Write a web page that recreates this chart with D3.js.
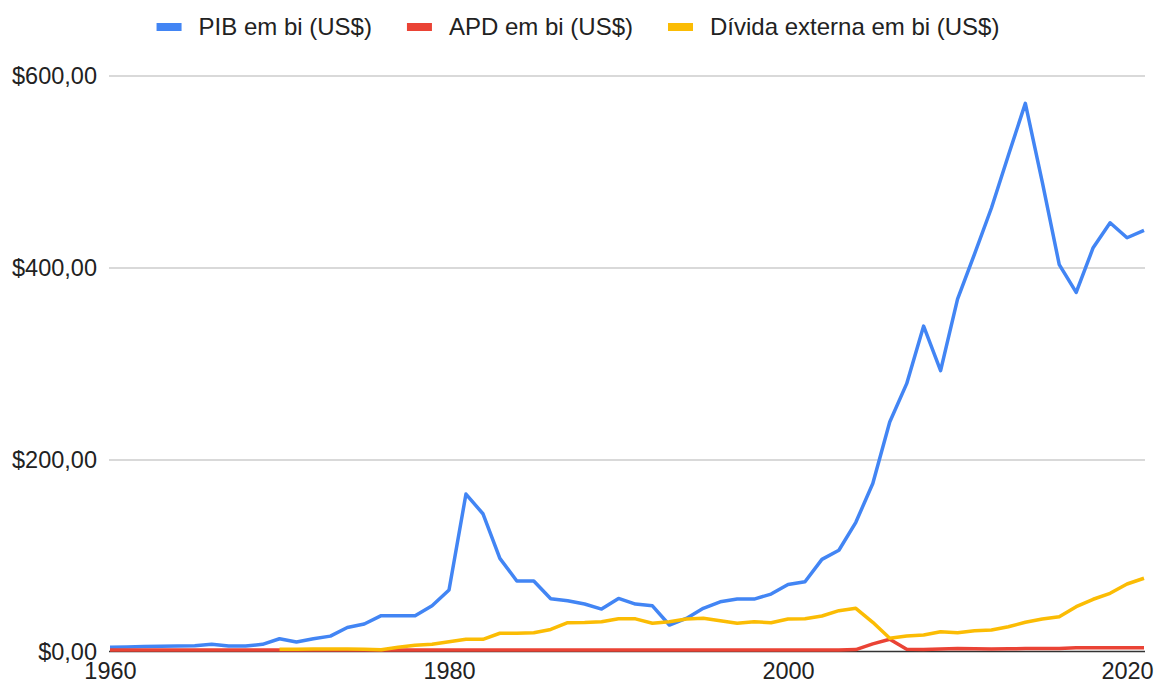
<!DOCTYPE html>
<html lang="pt">
<meta charset="utf-8">
<style>
body {
  margin: 0;
  background: #fff;
  font-family: Arial, 'Liberation Sans', sans-serif;
}
.grid line {
  stroke: #cccccc;
  stroke-width: 1.5px;
}
.grid .domain {
  display: none;
}
.axis text {
  fill: #222;
  font-size: 23.5px;
}
.legend text {
  fill: #222;
  font-size: 24px;
}
.axis .domain, .axis line {
  display: none;
}
.serie {
  fill: none;
  stroke-width: 3.5px;
  stroke-linejoin: round;
}
</style>
<body>
<div id="chart"></div>
<script src="https://d3js.org/d3.v7.min.js"></script>
<script>

// anos 1960 - 2021
var anos = d3.range(1960, 2022);

var pib = [4.4, 4.8, 5.2, 5.5, 5.8, 6.1, 7.5, 5.7, 5.7, 7.5,
  13.3, 9.9, 13.3, 16, 25, 28.6, 37.3, 37.3, 37.3, 47.7,
  64, 164, 143.5, 97, 73.5, 73.5, 55, 52.8, 49.5, 44.2,
  55.3, 49.4, 47.6, 27.6, 34.5, 45, 51.8, 54.6, 54.6, 59.8,
  69.8, 72.6, 96, 105.5, 134.6, 175, 239, 279, 339, 292.5,
  367, 414, 462, 517, 571, 489, 403, 374, 420.6, 446.6,
  431, 438.7];

var apd = [1.5, 1.5, 1.5, 1.5, 1.5, 1.5, 1.5, 1.5, 1.5, 1.5,
  1.5, 1.5, 1.5, 1.5, 1.5, 1.5, 1.5, 1.5, 1.5, 1.5,
  1.5, 1.5, 1.5, 1.5, 1.5, 1.5, 1.5, 1.5, 1.5, 1.5,
  1.5, 1.5, 1.5, 1.5, 1.5, 1.5, 1.5, 1.5, 1.5, 1.5,
  1.5, 1.5, 1.5, 1.5, 2, 8, 12.7, 2.3, 2.2, 2.6,
  3, 2.8, 2.5, 2.9, 3, 3, 3, 4, 4, 4,
  4, 4];

var divida = [null, null, null, null, null, null, null, null, null, null,
  2.3, 2.3, 2.5, 2.7, 2.7, 2.3, 1.8, 4.4, 6.5, 7.5,
  10.2, 12.7, 12.7, 19, 19, 19.6, 23, 30, 30.3, 31,
  34.2, 34, 29.4, 31, 33.9, 34.6, 32, 29.4, 31, 30,
  33.9, 34.2, 37, 42.5, 45, 30.4, 13.8, 16.1, 17.2, 20.6,
  19.6, 21.7, 22.4, 25.8, 30.4, 33.9, 36.3, 46.7, 54.4, 60.6,
  70.3, 76.3];

var series = ["PIB em bi (US$)", "APD em bi (US$)", "Dívida externa em bi (US$)"];
var cores = ["#4285f4", "#ea4335", "#fbbc04"];
var yTicks = [0, 200, 400, 600];
var xTicks = [1960, 1980, 2000, 2020];

var width = 1156,
    height = 684;

var x = d3.scaleLinear().domain([1960, 2021]).range([110, 1144]);
var y = d3.scaleLinear().domain([0, 600]).range([651.5, 75.5]);

var svg = d3.select("#chart").append("svg")
    .attr("width", width)
    .attr("height", height);

// formato brasileiro $600,00
var br = d3.formatLocale({decimal: ",", thousands: ".", grouping: [3], currency: ["$", ""]});
var fmt = br.format("$,.2f");

// gridlines
svg.append("g")
    .attr("class", "grid")
    .attr("transform", "translate(109,0)")
    .call(d3.axisLeft(y).tickValues(yTicks.slice(1)).tickSize(-1036).tickFormat(""));

// y labels
svg.append("g")
    .attr("class", "axis")
    .attr("transform", "translate(97,0)")
    .call(d3.axisLeft(y).tickValues(yTicks).tickSize(0).tickPadding(0).tickFormat(fmt));

// x labels
svg.append("g")
    .attr("class", "axis")
    .attr("transform", "translate(0,662)")
    .call(d3.axisBottom(x).tickValues(xTicks).tickSize(0).tickPadding(0).tickFormat(d3.format("d")));

// baseline
svg.append("line")
    .attr("x1", 109).attr("x2", 1145)
    .attr("y1", y(0)).attr("y2", y(0))
    .attr("stroke", "#333")
    .attr("stroke-width", 1.5);

var line = d3.line()
    .defined(function(d) { return d[1] != null; })
    .x(function(d) { return x(d[0]); })
    .y(function(d) { return y(d[1]); });

[pib, apd, divida].forEach(function(vals, i) {
  svg.append("path")
      .attr("class", "serie")
      .datum(anos.map(function(a, j) { return [a, vals[j]]; }))
      .attr("stroke", cores[i])
      .attr("d", line);
});

// legenda centrada
var legend = svg.append("g").attr("class", "legend");
var items = legend.selectAll("g")
    .data(series)
  .enter().append("g");

items.append("rect")
    .attr("x", 0).attr("y", 23)
    .attr("width", 25).attr("height", 8)
    .attr("fill", function(d, i) { return cores[i]; });

items.append("text")
    .attr("x", 42).attr("y", 27)
    .attr("dy", "0.35em")
    .text(function(d) { return d; });

var pos = 0;
items.each(function() {
  var w = d3.select(this).select("text").node().getComputedTextLength();
  d3.select(this).attr("transform", "translate(" + pos + ",0)");
  pos += 42 + w + 35;
});
var total = pos - 35;
legend.attr("transform", "translate(" + (width / 2 - total / 2) + ",0)");

</script>
</body>
</html>
